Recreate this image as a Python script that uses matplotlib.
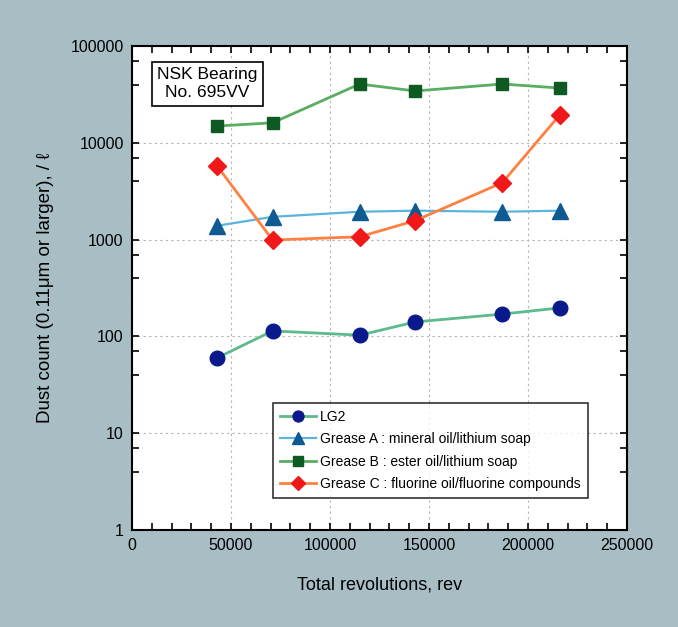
import matplotlib.pyplot as plt
from matplotlib.ticker import LogLocator, MultipleLocator
import numpy as np

plt.rcParams['font.family'] = ['Liberation Sans', 'DejaVu Sans']

# data
revs = [43000, 71000, 115000, 143000, 187000, 216000]
lg2 = [60, 114, 103, 141, 170, 197]
grease_a = [1390, 1720, 1940, 1990, 1940, 1990]
grease_b = [14900, 16100, 40500, 34300, 40500, 36800]
grease_c = [5760, 990, 1070, 1570, 3870, 19400]

labels = ["LG2",
          "Grease A : mineral oil/lithium soap",
          "Grease B : ester oil/lithium soap",
          "Grease C : fluorine oil/fluorine compounds"]

bg = "#a8bdc4"
fig = plt.figure(figsize=(6.78, 6.27), dpi=100, facecolor=bg)
ax = fig.add_axes([0.1947, 0.1547, 0.7301, 0.7719])
ax.set_facecolor("white")

ax.plot(revs, lg2, color="#5cbb8c", lw=2, marker="o", ms=10.5,
        mfc="#0a1a8c", mec="#0a1a8c", label=labels[0])
ax.plot(revs, grease_a, color="#5ab4dc", lw=1.6, marker="^", ms=11,
        mfc="#105a92", mec="#105a92", label=labels[1])
ax.plot(revs, grease_b, color="#5aae62", lw=2, marker="s", ms=9,
        mfc="#0e5a22", mec="#0e5a22", label=labels[2])
ax.plot(revs, grease_c, color="#ff8040", lw=2, marker="D", ms=9.5,
        mfc="#f01818", mec="#f01818", label=labels[3])

ax.set_yscale("log")
ax.set_xlim(0, 250000)
ax.set_ylim(1, 100000)
ax.xaxis.set_major_locator(MultipleLocator(50000))
ax.xaxis.set_minor_locator(MultipleLocator(10000))
ax.yaxis.set_major_locator(LogLocator(base=10, numticks=10))
ax.yaxis.set_minor_locator(LogLocator(base=10, subs=(4.0, 7.0), numticks=10))
ax.yaxis.set_major_formatter(plt.FuncFormatter(lambda v, p: "%d" % v))
ax.yaxis.set_minor_formatter(plt.NullFormatter())

ax.grid(True, which="major", color="#b4b4b4", ls=(0, (2, 3)), lw=0.8)
ax.tick_params(which="both", direction="in", top=True, right=True,
               length=5, width=1.2, labelsize=11.5, pad=6)
for s in ax.spines.values():
    s.set_linewidth(1.5)

ax.set_xlabel("Total revolutions, rev", fontsize=13, labelpad=17)
ax.set_ylabel("Dust count (0.11\u03bcm or larger), / \u2113", fontsize=13.5, labelpad=12)

ax.text(0.152, 0.9225, "NSK Bearing\nNo. 695VV", transform=ax.transAxes,
        ha="center", va="center", fontsize=12.5, linespacing=1.3,
        bbox=dict(boxstyle="square,pad=0.3", fc="white", ec="black", lw=1.2))

leg = ax.legend(loc="lower right", bbox_to_anchor=(0.935, 0.052), fontsize=10,
                frameon=True, fancybox=False, edgecolor="black",
                handlelength=2.6, handletextpad=0.3, borderpad=0.5,
                labelspacing=0.6, markerscale=0.75)
leg.get_frame().set_linewidth(1.2)

fig.savefig("out.png", dpi=100, facecolor=bg)
